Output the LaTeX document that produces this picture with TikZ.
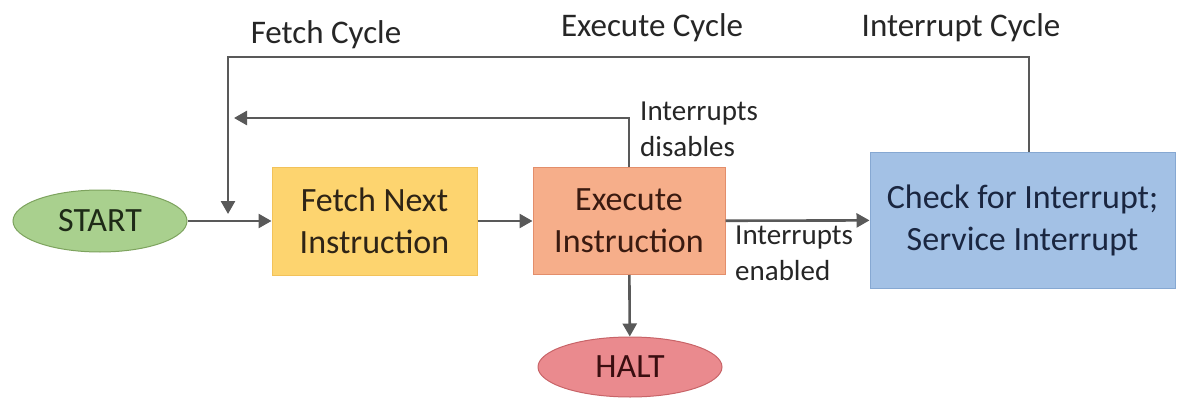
\documentclass[tikz,border=0pt]{standalone}
\usepackage{fontspec}
\setmainfont{Carlito}
\usetikzlibrary{shapes.geometric,arrows.meta,calc}
\definecolor{lineg}{HTML}{595959}
\definecolor{fgreen}{HTML}{A9D08E}
\definecolor{bgreen}{HTML}{7DA35E}
\definecolor{fyel}{HTML}{FDD46F}
\definecolor{byel}{HTML}{F2C25A}
\definecolor{fsal}{HTML}{F6AE8A}
\definecolor{bsal}{HTML}{E38E6B}
\definecolor{fblue}{HTML}{A3C1E5}
\definecolor{bblue}{HTML}{86A8D2}
\definecolor{fpink}{HTML}{EA8A8E}
\definecolor{bpink}{HTML}{C86468}
\definecolor{tgreen}{HTML}{1E2A17}
\definecolor{tyel}{HTML}{2E2416}
\definecolor{tsal}{HTML}{3A1A10}
\definecolor{tblue}{HTML}{1A2640}
\definecolor{tpink}{HTML}{3A0E10}
\definecolor{tlbl}{HTML}{262626}
\begin{document}
\begin{tikzpicture}[x=1pt,y=-1pt,
  conn/.style={draw=lineg,line width=2.6pt,-{Triangle[length=13pt,width=14pt]}},
  boxtxt/.style={font=\fontsize{34}{42}\selectfont,align=center,inner sep=0pt},
  lbl/.style={font=\fontsize{33}{40}\selectfont,text=tlbl,inner sep=0pt},
  small/.style={font=\fontsize{29}{36}\selectfont,text=tlbl,align=left,inner sep=0pt}]
\useasboundingbox[fill=white] (0,0) rectangle (1177,401);
\node[ellipse,draw=bgreen,fill=fgreen,line width=1pt,minimum width=174pt,minimum height=62pt,boxtxt,text=tgreen] (start) at (100,221) {START};
\node[rectangle,draw=byel,fill=fyel,line width=1pt,minimum width=205pt,minimum height=108pt,boxtxt,text=tyel] (fetch) at (374.5,221) {Fetch Next\\Instruction};
\node[rectangle,draw=bsal,fill=fsal,line width=1pt,minimum width=192pt,minimum height=107pt,boxtxt,text=tsal] (exec) at (629,221) {Execute\\Instruction};
\node[rectangle,draw=bblue,fill=fblue,line width=1pt,minimum width=305pt,minimum height=136pt,boxtxt,text=tblue] (check) at (1022.5,220) {Check for Interrupt;\\Service Interrupt};
\node[ellipse,draw=bpink,fill=fpink,line width=1pt,minimum width=184pt,minimum height=60pt,boxtxt,text=tpink] (halt) at (630,367) {HALT};

\node[lbl] (lfetch) at (326,35) {Fetch Cycle};
\node[lbl] (lexec) at (652,28) {Execute Cycle};
\node[lbl] (lint) at (961,28) {Interrupt Cycle};
\node[small,anchor=west] (ldis) at (640,129) {Interrupts\\disables};
\node[small,anchor=west] (len) at (735,253) {Interrupts\\enabled};

\coordinate (tr) at (1029,57);
\coordinate (tl) at (228,57);
\coordinate (tj) at (228,214);
\coordinate (ic) at (629,118);
\coordinate (it) at (234,118);

\draw[conn] (start) -- (fetch);
\draw[conn] (fetch) -- (exec);
\draw[conn] (exec) -- (check);
\draw[conn] (exec) -- (halt);
\draw[conn] (tr |- check.north) -- (tr) -- (tl) -- (tj);
\draw[conn] (exec.north) -- (ic) -- (it);
\end{tikzpicture}
\end{document}
